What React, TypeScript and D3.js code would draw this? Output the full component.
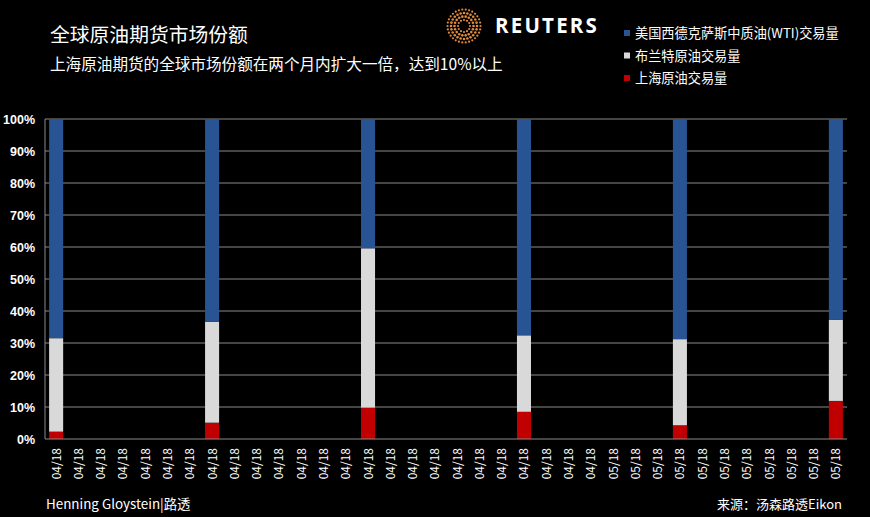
import React from "react";
import * as d3 from "d3";

const categories: string[] = [
  ...Array(25).fill("04/18"),
  ...Array(11).fill("05/18"),
];
// index of categories that have data
const barIndex = [0, 7, 14, 21, 28, 35];
const shanghai = [2.3, 5.1, 9.8, 8.5, 4.3, 11.9];
const brent = [29.2, 31.5, 49.8, 23.9, 26.9, 25.3];
const wti = shanghai.map((s, i) => 100 - s - brent[i]);
const yTicks = [0, 10, 20, 30, 40, 50, 60, 70, 80, 90, 100];

const seriesNames = ["美国西德克萨斯中质油(WTI)交易量", "布兰特原油交易量", "上海原油交易量"];
const colors = { wti: "#285493", brent: "#d9d9d9", sh: "#c00000" };

const W = 870, H = 517;
const M = { left: 45, right: 23, top: 119, bottom: 78 };

export default function App() {
  const x = d3.scaleBand<number>()
    .domain(categories.map((_, i) => i))
    .range([M.left, W - M.right])
    .paddingInner(0.37)
    .paddingOuter(0.185);
  const y = d3.scaleLinear().domain([0, 100]).range([H - M.bottom, M.top]);

  const rows = barIndex.map((ci, k) => ({
    ci,
    segs: [
      { y0: 0, y1: shanghai[k], c: colors.sh },
      { y0: shanghai[k], y1: shanghai[k] + brent[k], c: colors.brent },
      { y0: shanghai[k] + brent[k], y1: shanghai[k] + brent[k] + wti[k], c: colors.wti },
    ],
  }));

  // logo dots
  const dots: { x: number; y: number; r: number }[] = [];
  const rings = [
    { r: 6, n: 12, s: 1.1 },
    { r: 9.5, n: 18, s: 1.3 },
    { r: 13, n: 24, s: 1.3 },
    { r: 16.5, n: 30, s: 1.1 },
  ];
  rings.forEach((rg) => {
    d3.range(rg.n).forEach((j) => {
      const a = (j / rg.n) * Math.PI * 2;
      dots.push({ x: 464 + rg.r * Math.cos(a), y: 26 + rg.r * Math.sin(a), r: rg.s });
    });
  });

  const font = "'Microsoft YaHei', 'Noto Sans CJK SC', sans-serif";
  const legendColors = [colors.wti, colors.brent, colors.sh];

  return (
    <svg width={W} height={H} style={{ position: "absolute", left: 0, top: 0, background: "#000" }}>
      <rect x={0} y={0} width={W} height={H} fill="#000" />
      <text x={50} y={42} fill="#fff" fontSize={19.8} fontFamily={font}>全球原油期货市场份额</text>
      <text x={50} y={70} fill="#fff" fontSize={15.6} fontFamily={font}>上海原油期货的全球市场份额在两个月内扩大一倍，达到10%以上</text>

      {dots.map((d, i) => (
        <circle key={i} cx={d.x} cy={d.y} r={d.r} fill="#e08a3c" />
      ))}
      <text x={495} y={32.5} fill="#fff" fontSize={20.5} fontWeight="bold" letterSpacing={2.2} fontFamily="'Open Sans', 'Liberation Sans', sans-serif">REUTERS</text>

      {seriesNames.map((n, i) => (
        <g key={n}>
          <rect x={624} y={38 + i * 22.5 - 8} width={6} height={6} fill={legendColors[i]} />
          <text x={635} y={38 + i * 22.5} fill="#fff" fontSize={13.2} fontFamily={font}>{n}</text>
        </g>
      ))}

      {yTicks.map((t) => (
        <g key={t}>
          {t > 0 && (
            <line x1={M.left} x2={W - M.right} y1={y(t)} y2={y(t)} stroke="#8a8a8a" strokeWidth={1} />
          )}
          <text x={35} y={y(t) + 4.5} fill="#fff" fontSize={12.5} fontWeight="bold" textAnchor="end" fontFamily="'Liberation Sans', Arial, sans-serif">{t}%</text>
        </g>
      ))}

      {rows.map((r) => (
        <g key={r.ci}>
          {r.segs.map((s, j) => (
            <rect key={j} x={x(r.ci)} width={x.bandwidth()} y={y(s.y1)} height={y(s.y0) - y(s.y1)} fill={s.c} />
          ))}
        </g>
      ))}

      <line x1={M.left} x2={M.left} y1={M.top} y2={H - M.bottom} stroke="#8a8a8a" strokeWidth={1} />
      <line x1={M.left} x2={W - M.right} y1={H - M.bottom} y2={H - M.bottom} stroke="#8a8a8a" strokeWidth={1} />

      {categories.map((c, i) => {
        const cx = (x(i) as number) + x.bandwidth() / 2;
        return (
          <text key={i} transform={`translate(${cx + 4.5},${448}) rotate(-90)`} fill="#fff" fontSize={12} textAnchor="end" fontFamily={font}>{c}</text>
        );
      })}

      <text x={46} y={509} fill="#fff" fontSize={13.4} fontFamily={font}>Henning Gloystein|路透</text>
      <text x={842} y={509} fill="#fff" fontSize={13} textAnchor="end" fontFamily={font}>来源：汤森路透Eikon</text>
    </svg>
  );
}
